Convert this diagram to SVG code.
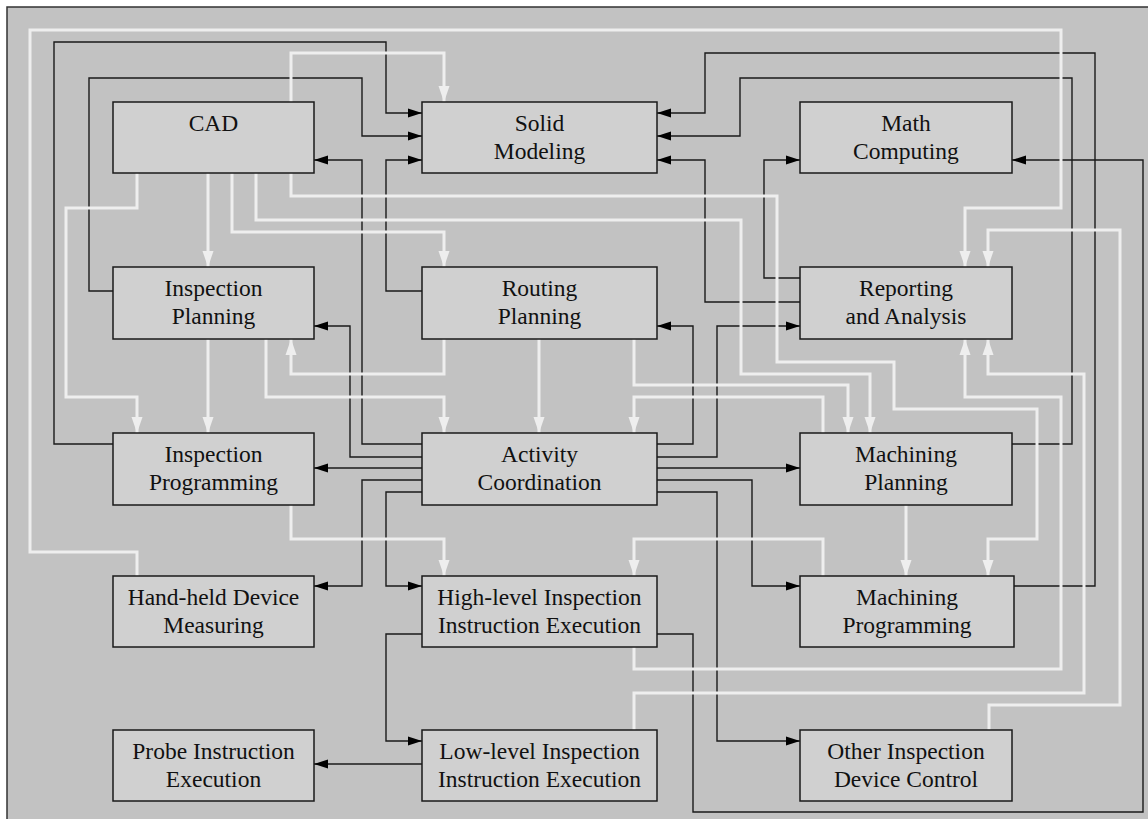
<svg xmlns="http://www.w3.org/2000/svg" width="1148" height="819" viewBox="0 0 1148 819">
<style>
.box rect{fill:#d0d0d0;stroke:#1a1a1a;stroke-width:1.5}
.box text{font-size:23.5px;fill:#111;text-anchor:middle}
.k{fill:none;stroke:#1a1a1a;stroke-width:1.4;marker-end:url(#ak)}
.w{fill:none;stroke:#eeeeee;stroke-width:3;marker-end:url(#aw)}
</style>
<defs>
<marker id="ak" markerUnits="userSpaceOnUse" markerWidth="15" markerHeight="10" refX="14" refY="4.5" orient="auto" overflow="visible"><path d="M0,0 L14,4.5 L0,9 z" fill="#000"/></marker>
<marker id="aw" markerUnits="userSpaceOnUse" markerWidth="17" markerHeight="12" refX="16" refY="5.5" orient="auto" overflow="visible"><path d="M0,0 L16,5.5 L0,11 z" fill="#eeeeee"/></marker>
</defs>
<rect x="0" y="0" width="1148" height="819" fill="#ffffff"/>
<rect x="7" y="7" width="1160" height="830" fill="#c2c2c2" stroke="#333" stroke-width="1.5"/>

<g id="connectors">
<path class="k" d="M113,444 H54 V42 H386 V113 H422"/>
<path class="k" d="M113,291 H89 V78 H362 V136 H422"/>
<path class="k" d="M422,444 H362 V160 H314"/>
<path class="k" d="M422,291 H386 V160 H422"/>
<path class="k" d="M1014,586 H1095 V53 H705 V113 H657"/>
<path class="k" d="M1012,444 H1072 V78 H740 V136 H657"/>
<path class="k" d="M800,302 H705 V160 H657"/>
<path class="k" d="M800,278 H764 V160 H800"/>
<path class="k" d="M657,634 H693 V812 H1143 V160 H1012"/>
<path class="k" d="M422,457 H350 V326 H314"/>
<path class="k" d="M422,468 H314"/>
<path class="k" d="M422,480 H362 V586 H314"/>
<path class="k" d="M422,492 H386 V586 H422"/>
<path class="k" d="M422,634 H386 V741 H422"/>
<path class="k" d="M422,764 H314"/>
<path class="k" d="M657,444 H693 V326 H657"/>
<path class="k" d="M657,457 H717 V326 H800"/>
<path class="k" d="M657,468 H800"/>
<path class="k" d="M657,480 H752 V586 H800"/>
<path class="k" d="M657,492 H717 V741 H800"/>
<path class="w" d="M137,576 V552 H30 V30 H1061 V208 H965 V267"/>
<path class="w" d="M291,102 V53 H444 V102"/>
<path class="w" d="M137,173 V208 H66 V397 H137 V433"/>
<path class="w" d="M208,173 V267"/>
<path class="w" d="M232,173 V232 H444 V267"/>
<path class="w" d="M256,173 V220 H741 V374 H870 V433"/>
<path class="w" d="M291,173 V196 H777 V362 H894 V409 H1037 V539 H988 V576"/>
<path class="w" d="M208,339 V433"/>
<path class="w" d="M266,339 V397 H444 V433"/>
<path class="w" d="M444,339 V374 H291 V339"/>
<path class="w" d="M539,339 V433"/>
<path class="w" d="M634,339 V385 H848 V433"/>
<path class="w" d="M823,433 V397 H634 V433"/>
<path class="w" d="M906,505 V576"/>
<path class="w" d="M291,505 V539 H444 V576"/>
<path class="w" d="M823,576 V539 H634 V576"/>
<path class="w" d="M634,647 V669 H1061 V397 H965 V339"/>
<path class="w" d="M634,730 V693 H1084 V374 H988 V339"/>
<path class="w" d="M989,730 V705 H1120 V230 H988 V267"/>
</g>

<g font-family="'Liberation Serif', 'DejaVu Serif', serif">
<g id="cad" class="box"><rect x="113" y="102" width="201" height="71"/><text x="213.5" y="131">CAD</text></g>
<g id="solid-modeling" class="box"><rect x="422" y="102" width="235" height="71"/><text x="539.5" y="131">Solid</text><text x="539.5" y="159">Modeling</text></g>
<g id="math-computing" class="box"><rect x="800" y="102" width="212" height="71"/><text x="906" y="131">Math</text><text x="906" y="159">Computing</text></g>
<g id="inspection-planning" class="box"><rect x="113" y="267" width="201" height="72"/><text x="213.5" y="296">Inspection</text><text x="213.5" y="324">Planning</text></g>
<g id="routing-planning" class="box"><rect x="422" y="267" width="235" height="72"/><text x="539.5" y="296">Routing</text><text x="539.5" y="324">Planning</text></g>
<g id="reporting-analysis" class="box"><rect x="800" y="267" width="212" height="72"/><text x="906" y="296">Reporting</text><text x="906" y="324">and Analysis</text></g>
<g id="inspection-programming" class="box"><rect x="113" y="433" width="201" height="72"/><text x="213.5" y="462">Inspection</text><text x="213.5" y="490">Programming</text></g>
<g id="activity-coordination" class="box"><rect x="422" y="433" width="235" height="72"/><text x="539.5" y="462">Activity</text><text x="539.5" y="490">Coordination</text></g>
<g id="machining-planning" class="box"><rect x="800" y="433" width="212" height="72"/><text x="906" y="462">Machining</text><text x="906" y="490">Planning</text></g>
<g id="hand-held" class="box"><rect x="113" y="576" width="201" height="71"/><text x="213.5" y="605">Hand-held Device</text><text x="213.5" y="633">Measuring</text></g>
<g id="high-level" class="box"><rect x="422" y="576" width="235" height="71"/><text x="539.5" y="605">High-level Inspection</text><text x="539.5" y="633">Instruction Execution</text></g>
<g id="machining-programming" class="box"><rect x="800" y="576" width="214" height="71"/><text x="907" y="605">Machining</text><text x="907" y="633">Programming</text></g>
<g id="probe" class="box"><rect x="113" y="730" width="201" height="71"/><text x="213.5" y="759">Probe Instruction</text><text x="213.5" y="787">Execution</text></g>
<g id="low-level" class="box"><rect x="422" y="730" width="235" height="71"/><text x="539.5" y="759">Low-level Inspection</text><text x="539.5" y="787">Instruction Execution</text></g>
<g id="other-device" class="box"><rect x="800" y="730" width="212" height="71"/><text x="906" y="759">Other Inspection</text><text x="906" y="787">Device Control</text></g>
</g>
</svg>
